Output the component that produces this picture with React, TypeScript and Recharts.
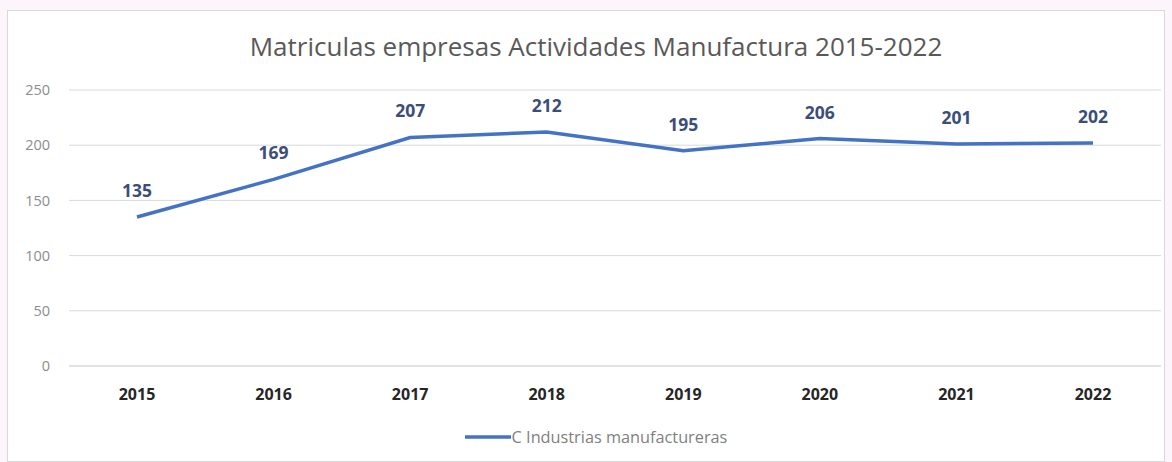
import React from "react";
import { LineChart, Line, XAxis, YAxis, CartesianGrid, LabelList } from "recharts";

const years = ["2015", "2016", "2017", "2018", "2019", "2020", "2021", "2022"];
const matriculas = [135, 169, 207, 212, 195, 206, 201, 202];
const yTicks = [0, 50, 100, 150, 200, 250];
const seriesName = "C Industrias manufactureras";
const title = "Matriculas empresas Actividades Manufactura 2015-2022";

const data = years.map((y, i) => ({ year: y, value: matriculas[i] }));

const font = "'Open Sans', 'Liberation Sans', sans-serif";

export default function App() {
  return (
    <div style={{ position: "absolute", left: 0, top: 0, width: 1172, height: 462, background: "#fcf6fc" }}>
      <div style={{ position: "absolute", left: 7, top: 10, width: 1158, height: 452, background: "#ffffff", border: "1px solid #d9d9d9", boxSizing: "border-box" }} />
      <div style={{ position: "absolute", left: 0, top: 28, width: 1192, textAlign: "center", fontFamily: font, fontSize: 26, color: "#595959", whiteSpace: "nowrap" }}>{title}</div>
      <div style={{ position: "absolute", left: 0, top: 0 }}>
        <LineChart width={1172} height={462} data={data} margin={{ top: 90, right: 11, bottom: 66, left: 29 }}>
          <CartesianGrid vertical={false} stroke="#d9d9d9" />
          <XAxis dataKey="year" height={30} padding={{ left: 68, right: 68 }} axisLine={{ stroke: "#d9d9d9" }} tickLine={false} tickSize={0} tickMargin={23}
            tick={{ fill: "#262626", fontSize: 16, fontWeight: 700, fontFamily: font }} />
          <YAxis domain={[0, 250]} ticks={yTicks} width={40} axisLine={false} tickLine={false} tickSize={0} tickMargin={19}
            tick={{ fill: "#8c8c8c", fontSize: 14.5, fontFamily: font }} />
          <Line type="linear" dataKey="value" stroke="#4472c4" strokeWidth={3.5} dot={false} isAnimationActive={false}>
            <LabelList dataKey="value" position="top" offset={20} style={{ fill: "#3b4e7a", fontSize: 17.5, fontWeight: 700, fontFamily: font }} />
          </Line>
        </LineChart>
      </div>
      <div style={{ position: "absolute", left: 0, top: 426, width: 1192, display: "flex", justifyContent: "center", alignItems: "center", fontFamily: font, fontSize: 16.3, color: "#7f7f7f", whiteSpace: "nowrap" }}>
        <svg width={46} height={10} style={{ marginRight: 1 }}>
          <line x1={0} y1={5} x2={46} y2={5} stroke="#4472c4" strokeWidth={3.5} />
        </svg>
        <span>{seriesName}</span>
      </div>
    </div>
  );
}
